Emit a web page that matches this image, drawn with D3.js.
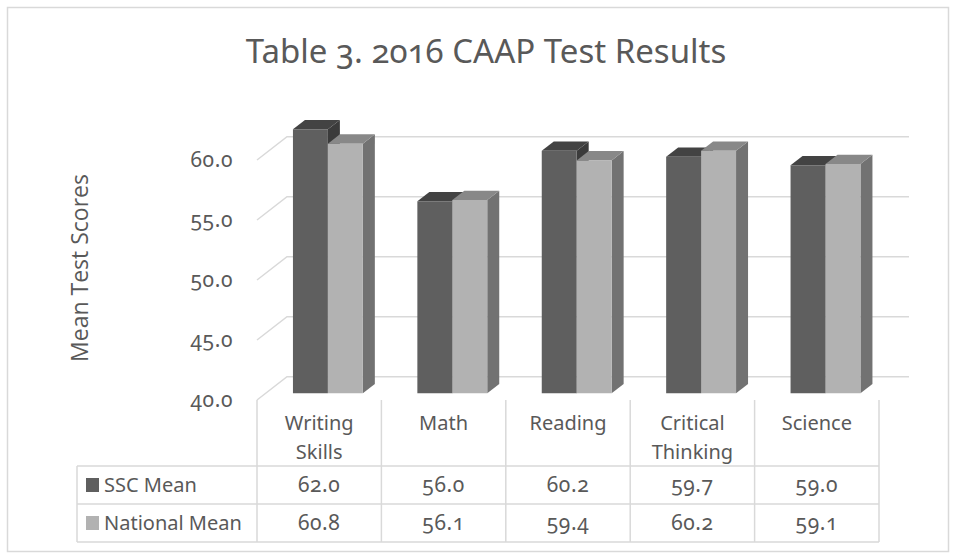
<!DOCTYPE html>
<html>
<head>
<meta charset="utf-8">
<script src="https://cdn.jsdelivr.net/npm/d3@7"></script>
<style>
  body { margin: 0; background: #fff; }
  svg text { font-family: "Noto Sans", "Open Sans", sans-serif; fill: #595959; font-variant-numeric: oldstyle-nums; }
  .axis-title { font-family: "Open Sans", sans-serif; }
  .num { letter-spacing: 0.6px; }
</style>
</head>
<body>
<svg id="chart"></svg>
<script>
var categories = [["Writing", "Skills"], ["Math"], ["Reading"], ["Critical", "Thinking"], ["Science"]];
var seriesNames = ["SSC Mean", "National Mean"];
var sscMean = [62.0, 56.0, 60.2, 59.7, 59.0];
var nationalMean = [60.8, 56.1, 59.4, 60.2, 59.1];
var yTicks = [40, 45, 50, 55, 60];

var width = 956, height = 559,
    // oblique depth of the plot box
    depthX = 30, depthY = -23.3,
    barFront = 0.29, barBack = 0.69,
    faces = [
        { front: '#5f5f5f', top: '#434343', side: '#3b3b3b', key: '#5f5f5f' },
        { front: '#b2b2b2', top: '#888888', side: '#727272', key: '#b2b2b2' }
    ],
    grid = '#d9d9d9';

var series = [sscMean, nationalMean];
var catIdx = d3.range(categories.length);

var svg = d3.select('#chart').attr('width', width).attr('height', height);

svg.append('rect')
    .attr('x', 7.5).attr('y', 7.5)
    .attr('width', 941).attr('height', 544)
    .attr('fill', 'white').attr('stroke', grid).attr('stroke-width', 1.5);

svg.append('text')
    .attr('x', 486).attr('y', 63)
    .attr('text-anchor', 'middle')
    .style('font-size', '33px')
    .text('Table 3. 2016 CAAP Test Results');

var x = d3.scaleBand().domain(catIdx).range([257, 879]);
var xs = d3.scaleBand().domain([0, 1]).range([0, x.bandwidth()]).paddingOuter(0.78);
var y = d3.scaleLinear().domain([40, 60]).range([400, 160]);

function proj(px, v, f) {
    return [px + f * depthX, y(v) + f * depthY];
}

// walls: left diagonals + back gridlines
var gridG = svg.append('g');
yTicks.forEach(function(t) {
    var a = proj(x.range()[0], t, 0), b = proj(x.range()[0], t, 1), c = proj(x.range()[1], t, 1);
    gridG.append('path')
        .attr('d', 'M' + a + 'L' + b + 'L' + c)
        .attr('fill', 'none').attr('stroke', grid).attr('stroke-width', 1.5);
});

// y tick labels
svg.append('g').selectAll('text')
    .data(yTicks)
    .join('text')
    .attr('class', 'num')
    .attr('x', 233).attr('y', function(d) { return y(d); })
    .attr('dy', '0.35em')
    .attr('text-anchor', 'end')
    .style('font-size', '21px')
    .text(d3.format('.1f'));

svg.append('text')
    .attr('class', 'axis-title')
    .attr('transform', 'translate(88,268) rotate(-90)')
    .attr('text-anchor', 'middle')
    .style('font-size', '23px')
    .text('Mean Test Scores');

// 3D bars
var barsG = svg.append('g');
catIdx.forEach(function(i) {
    series.forEach(function(vals, s) {
        var x0 = x(i) + xs(s), x1 = x0 + xs.bandwidth(), v = vals[i], c = faces[s];
        var fbl = proj(x0, 40, barFront), fbr = proj(x1, 40, barFront),
            ftl = proj(x0, v, barFront), ftr = proj(x1, v, barFront),
            bbr = proj(x1, 40, barBack), btl = proj(x0, v, barBack), btr = proj(x1, v, barBack);
        barsG.append('path').attr('d', 'M' + fbr + 'L' + bbr + 'L' + btr + 'L' + ftr + 'Z').attr('fill', c.side);
        barsG.append('path').attr('d', 'M' + ftl + 'L' + ftr + 'L' + btr + 'L' + btl + 'Z').attr('fill', c.top);
        barsG.append('path').attr('d', 'M' + fbl + 'L' + fbr + 'L' + ftr + 'L' + ftl + 'Z').attr('fill', c.front);
    });
});

// data table
var rowTop = 400, headerBottom = 466, rowH = 38, legendLeft = 77;
var tableG = svg.append('g').attr('stroke', grid).attr('stroke-width', 1.5);
x.domain().concat([categories.length]).forEach(function(i) {
    var px = i < categories.length ? x(i) : x.range()[1];
    tableG.append('line').attr('x1', px).attr('x2', px).attr('y1', rowTop).attr('y2', headerBottom + 2 * rowH);
});
[0, 1, 2].forEach(function(r) {
    var py = headerBottom + r * rowH;
    tableG.append('line').attr('x1', legendLeft).attr('x2', x.range()[1]).attr('y1', py).attr('y2', py);
});
tableG.append('line').attr('x1', legendLeft).attr('x2', legendLeft)
    .attr('y1', headerBottom).attr('y2', headerBottom + 2 * rowH);

// category header labels
svg.append('g').selectAll('text')
    .data(catIdx)
    .join('text')
    .attr('x', function(i) { return x(i) + x.bandwidth() / 2; })
    .attr('y', 430)
    .attr('text-anchor', 'middle')
    .style('font-size', '20px')
    .each(function(i) {
        d3.select(this).selectAll('tspan')
            .data(categories[i])
            .join('tspan')
            .attr('x', x(i) + x.bandwidth() / 2)
            .attr('dy', function(d, k) { return k ? 29 : 0; })
            .text(function(d) { return d; });
    });

// legend rows + values
series.forEach(function(vals, s) {
    var cy = headerBottom + s * rowH + rowH / 2;
    svg.append('rect')
        .attr('x', 86).attr('y', cy - 7)
        .attr('width', 13).attr('height', 14)
        .attr('fill', faces[s].key);
    svg.append('text')
        .attr('x', 104).attr('y', cy).attr('dy', '0.35em')
        .style('font-size', '20px')
        .text(seriesNames[s]);
    svg.append('g').selectAll('text')
        .data(vals)
        .join('text')
        .attr('class', 'num')
        .attr('x', function(d, i) { return x(i) + x.bandwidth() / 2; })
        .attr('y', cy).attr('dy', '0.35em')
        .attr('text-anchor', 'middle')
        .style('font-size', '21px')
        .text(d3.format('.1f'));
});
</script>
</body>
</html>
